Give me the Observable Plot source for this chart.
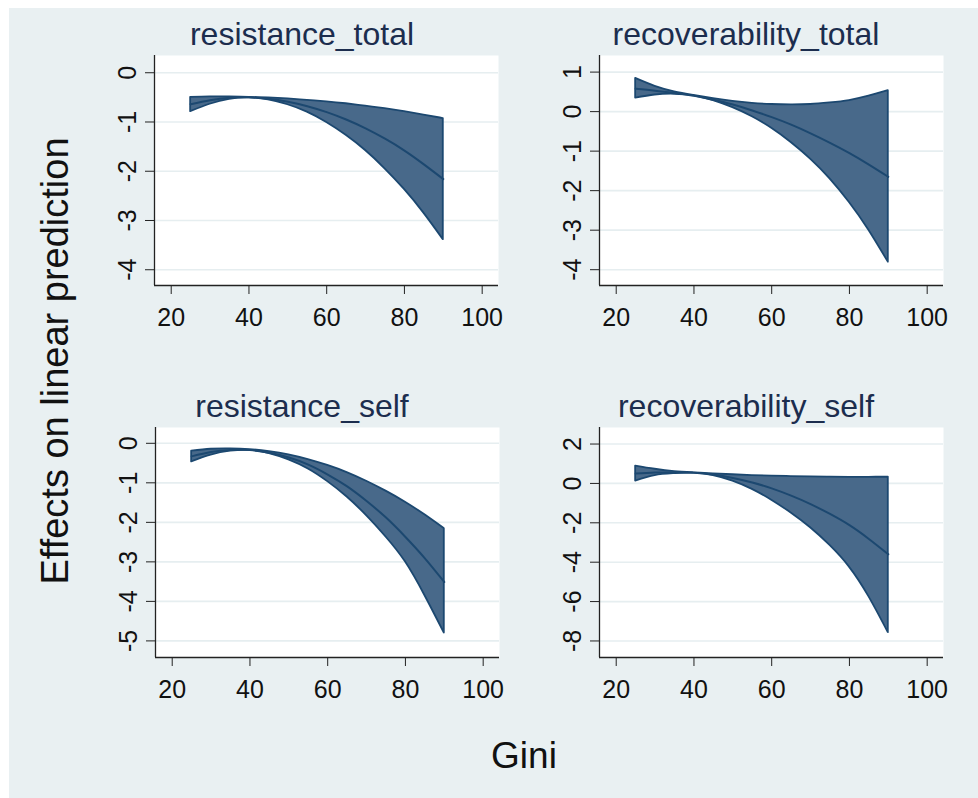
<!DOCTYPE html>
<html><head><meta charset="utf-8">
<script src="https://cdn.jsdelivr.net/npm/d3@7"></script>
<script src="https://cdn.jsdelivr.net/npm/@observablehq/plot@0.6"></script>
<style>
html,body{margin:0;padding:0;background:#fff;}
#root{position:relative;width:978px;height:798px;overflow:hidden;font-family:"Liberation Sans",Arial,sans-serif;}
#bg{position:absolute;left:9px;top:8px;width:969px;height:790px;background:#e9f0f2;}
.panel{position:absolute;}
#overlay{position:absolute;left:0;top:0;pointer-events:none;}
</style></head><body><div id="root"><div id="bg"></div></div>
<script>
// Gini values at which the margins are evaluated
const gini = [25,30,35,40,45,50,55,60,65,70,75,80,85,90];
const xTicks = [20,40,60,80,100];

// resistance_total
const resTotHi  = [-0.50,-0.49,-0.49,-0.50,-0.51,-0.53,-0.56,-0.59,-0.63,-0.68,-0.73,-0.79,-0.86,-0.93];
const resTotMid = [-0.64,-0.56,-0.51,-0.50,-0.53,-0.59,-0.68,-0.80,-0.95,-1.13,-1.34,-1.58,-1.86,-2.16];
const resTotLo  = [-0.79,-0.64,-0.54,-0.51,-0.55,-0.65,-0.80,-1.01,-1.27,-1.58,-1.95,-2.37,-2.85,-3.39];
const resTotTicks = [0,-1,-2,-3,-4];

// recoverability_total
const recTotHi  = [0.84,0.64,0.50,0.41,0.33,0.26,0.21,0.18,0.17,0.18,0.22,0.28,0.39,0.53];
const recTotMid = [0.58,0.53,0.47,0.40,0.30,0.18,0.03,-0.14,-0.33,-0.55,-0.79,-1.05,-1.34,-1.65];
const recTotLo  = [0.34,0.42,0.44,0.40,0.28,0.10,-0.13,-0.42,-0.78,-1.20,-1.70,-2.30,-3.00,-3.81];
const recTotTicks = [1,0,-1,-2,-3,-4];

// resistance_self
const resSelfHi  = [-0.20,-0.15,-0.14,-0.16,-0.21,-0.29,-0.41,-0.56,-0.74,-0.96,-1.21,-1.49,-1.81,-2.16];
const resSelfMid = [-0.33,-0.22,-0.17,-0.17,-0.24,-0.36,-0.54,-0.79,-1.09,-1.46,-1.88,-2.37,-2.91,-3.51];
const resSelfLo  = [-0.47,-0.30,-0.20,-0.18,-0.26,-0.42,-0.65,-0.97,-1.36,-1.83,-2.37,-3.00,-3.85,-4.80];
const resSelfTicks = [0,-1,-2,-3,-4,-5];

// recoverability_self
const recSelfHi  = [0.88,0.72,0.60,0.54,0.49,0.44,0.40,0.37,0.35,0.33,0.32,0.31,0.31,0.32];
const recSelfMid = [0.50,0.55,0.56,0.54,0.45,0.28,0.05,-0.25,-0.62,-1.05,-1.55,-2.12,-2.82,-3.60];
const recSelfLo  = [0.12,0.40,0.50,0.53,0.40,0.12,-0.30,-0.85,-1.50,-2.25,-3.15,-4.25,-5.75,-7.58];
const recSelfTicks = [2,0,-2,-4,-6,-8];

const titles = ["resistance_total","recoverability_total","resistance_self","recoverability_self"];
const yTitle = "Effects on linear prediction";
const xTitle = "Gini";

const FILL = "#48698a";
const LINE = "#1c4870";
const AXIS = "#222";
const GRID = "#e6eef0";
const FONT = "Liberation Sans, Arial, sans-serif";
const xDomain = [15.7, 104.2];
const fmt = d => String(d);   // plain hyphen minus, as in the reference

const panels = [
  {title:titles[0], hi:resTotHi,  mid:resTotMid,  lo:resTotLo,  ticks:resTotTicks,  yDomain:[-4.32,0.35], left:100, top:45},
  {title:titles[1], hi:recTotHi,  mid:recTotMid,  lo:recTotLo,  ticks:recTotTicks,  yDomain:[-4.40,1.42], left:545, top:45},
  {title:titles[2], hi:resSelfHi, mid:resSelfMid, lo:resSelfLo, ticks:resSelfTicks, yDomain:[-5.42,0.40], left:101, top:417},
  {title:titles[3], hi:recSelfHi, mid:recSelfMid, lo:recSelfLo, ticks:recSelfTicks, yDomain:[-8.84,2.84], left:545, top:417}
];

const root = document.getElementById("root");
const W = 410, H = 300, ML = 54, MR = 12, MT = 10, MB = 60;

for (const p of panels) {
  const data = gini.map((g, i) => ({g, lo: p.lo[i], mid: p.mid[i], hi: p.hi[i]}));
  const chart = Plot.plot({
    width: W, height: H, marginLeft: ML, marginRight: MR, marginTop: MT, marginBottom: MB,
    style: {background: "transparent", fontFamily: FONT, fontSize: "25px", color: "#111", overflow: "visible"},
    x: {domain: xDomain, label: null},
    y: {domain: p.yDomain, label: null},
    marks: [
      Plot.frame({fill: "white", stroke: "none"}),
      Plot.gridY(p.ticks, {stroke: GRID, strokeOpacity: 1, strokeWidth: 1.6}),
      Plot.areaY(data, {x: "g", y1: "lo", y2: "hi", fill: FILL, stroke: LINE, strokeWidth: 1.8, curve: "natural"}),
      Plot.lineY(data, {x: "g", y: "mid", stroke: LINE, strokeWidth: 2, curve: "natural"}),
      Plot.ruleX([xDomain[0]], {stroke: AXIS, strokeWidth: 1.3}),
      Plot.ruleY([p.yDomain[0]], {stroke: AXIS, strokeWidth: 1.3}),
      Plot.axisX(xTicks, {tickSize: 9, tickPadding: 14, fontSize: 25, label: null, stroke: AXIS, fill: "#111", tickFormat: fmt}),
      Plot.axisY(p.ticks, {tickSize: 9, tickPadding: 10, tickRotate: -90, textAnchor: "middle", lineAnchor: "bottom", fontSize: 25, label: null, stroke: AXIS, fill: "#111", tickFormat: fmt})
    ]
  });
  chart.classList.add("panel");
  chart.style.left = p.left + "px";
  chart.style.top = p.top + "px";
  chart.style.position = "absolute";
  root.appendChild(chart);
}

// titles & axis titles
const svg = d3.select(root).append("svg").attr("id", "overlay").attr("width", 978).attr("height", 798)
  .style("font-family", FONT);
const titlePos = [[302, 45], [746, 45], [302, 417], [746, 417]];
titles.forEach((t, i) => {
  svg.append("text").attr("x", titlePos[i][0]).attr("y", titlePos[i][1])
    .attr("text-anchor", "middle").attr("font-size", 32).attr("fill", "#1c2d4e").text(t);
});
svg.append("text").attr("transform", "translate(68,361) rotate(-90)")
  .attr("text-anchor", "middle").attr("font-size", 38).attr("fill", "#111").text(yTitle);
svg.append("text").attr("x", 524).attr("y", 768)
  .attr("text-anchor", "middle").attr("font-size", 37).attr("fill", "#111").text(xTitle);
</script>
</body></html>
